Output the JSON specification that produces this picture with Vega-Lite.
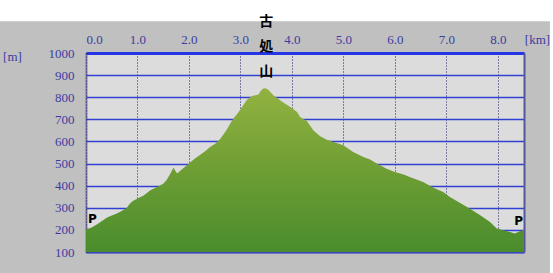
{
  "$schema": "https://vega.github.io/schema/vega-lite/v6.json",
  "width": 438,
  "height": 199,
  "autosize": {"type": "none"},
  "padding": {"left": 86, "top": 53, "right": 29, "bottom": 21},
  "background": "#c0c0c0",
  "config": {
    "view": {"fill": "#dcdcdc", "stroke": null},
    "axis": {"zindex": 1}
  },
  "datasets": {
    "profile": [
      {"km": 0.00, "elev": 203}, {"km": 0.10, "elev": 210}, {"km": 0.21, "elev": 224}, {"km": 0.31, "elev": 240},
      {"km": 0.41, "elev": 256}, {"km": 0.50, "elev": 265}, {"km": 0.60, "elev": 274}, {"km": 0.70, "elev": 287},
      {"km": 0.79, "elev": 299}, {"km": 0.85, "elev": 318}, {"km": 0.91, "elev": 331}, {"km": 1.02, "elev": 344},
      {"km": 1.12, "elev": 356}, {"km": 1.25, "elev": 379}, {"km": 1.38, "elev": 394}, {"km": 1.50, "elev": 409},
      {"km": 1.57, "elev": 427}, {"km": 1.64, "elev": 455}, {"km": 1.70, "elev": 482}, {"km": 1.73, "elev": 470},
      {"km": 1.77, "elev": 455}, {"km": 1.86, "elev": 473}, {"km": 2.00, "elev": 500}, {"km": 2.11, "elev": 522},
      {"km": 2.22, "elev": 540}, {"km": 2.32, "elev": 557}, {"km": 2.41, "elev": 575}, {"km": 2.51, "elev": 590},
      {"km": 2.61, "elev": 612}, {"km": 2.68, "elev": 635}, {"km": 2.74, "elev": 655}, {"km": 2.80, "elev": 680},
      {"km": 2.86, "elev": 703}, {"km": 2.93, "elev": 722}, {"km": 2.99, "elev": 741}, {"km": 3.06, "elev": 765},
      {"km": 3.12, "elev": 786}, {"km": 3.22, "elev": 805}, {"km": 3.35, "elev": 812}, {"km": 3.40, "elev": 830},
      {"km": 3.45, "elev": 841}, {"km": 3.50, "elev": 840}, {"km": 3.54, "elev": 834}, {"km": 3.64, "elev": 809},
      {"km": 3.77, "elev": 786}, {"km": 3.87, "elev": 770}, {"km": 3.97, "elev": 756}, {"km": 4.10, "elev": 733},
      {"km": 4.16, "elev": 711}, {"km": 4.29, "elev": 693}, {"km": 4.42, "elev": 650}, {"km": 4.55, "elev": 623},
      {"km": 4.68, "elev": 608}, {"km": 4.81, "elev": 597}, {"km": 5.00, "elev": 583}, {"km": 5.19, "elev": 552},
      {"km": 5.39, "elev": 530}, {"km": 5.52, "elev": 518}, {"km": 5.65, "elev": 500}, {"km": 5.84, "elev": 477},
      {"km": 6.00, "elev": 462}, {"km": 6.17, "elev": 451}, {"km": 6.29, "elev": 439}, {"km": 6.42, "elev": 428},
      {"km": 6.55, "elev": 417}, {"km": 6.75, "elev": 391}, {"km": 6.94, "elev": 371}, {"km": 7.07, "elev": 349},
      {"km": 7.27, "elev": 322}, {"km": 7.46, "elev": 296}, {"km": 7.66, "elev": 266}, {"km": 7.85, "elev": 236},
      {"km": 7.98, "elev": 206}, {"km": 8.11, "elev": 198}, {"km": 8.24, "elev": 190}, {"km": 8.33, "elev": 184},
      {"km": 8.43, "elev": 194}, {"km": 8.51, "elev": 200}
    ],
    "marks": [
      {"km": 0.0, "elev": 203, "label": "P", "kind": "start"},
      {"km": 8.51, "elev": 200, "label": "P", "kind": "end"},
      {"km": 3.5, "elev": 841, "label": "古\n処\n山", "kind": "peak"}
    ]
  },
  "resolve": {"axis": {"x": "independent", "y": "independent"}},
  "layer": [
    {
      "data": {"values": [{}]},
      "mark": {"type": "rect", "color": "#ffffff"},
      "encoding": {
        "x": {"datum": -5, "type": "quantitative", "scale": {"domain": [0, 8.51], "nice": false, "zero": false}, "axis": null},
        "x2": {"datum": 12},
        "y": {"datum": 1143.5, "type": "quantitative", "scale": {"domain": [100, 1000], "nice": false, "zero": false}, "axis": null},
        "y2": {"datum": 3000}
      }
    },
    {
      "data": {"values": [{}]},
      "mark": {"type": "rect", "color": "#ffffff"},
      "encoding": {
        "x": {"datum": 9.013, "type": "quantitative", "axis": null},
        "x2": {"datum": 12},
        "y": {"datum": -200, "type": "quantitative", "axis": null},
        "y2": {"datum": 3000}
      }
    },
    {
      "data": {"name": "profile"},
      "mark": {
        "type": "area",
        "interpolate": "linear",
        "color": {
          "gradient": "linear", "x1": 0, "y1": 0, "x2": 0, "y2": 1,
          "stops": [
            {"offset": 0, "color": "#92b241"},
            {"offset": 0.5, "color": "#6e9e34"},
            {"offset": 1, "color": "#4a8c2c"}
          ]
        }
      },
      "encoding": {
        "x": {
          "field": "km", "type": "quantitative",
          "scale": {"domain": [0, 8.51], "nice": false, "zero": false},
          "axis": {
            "orient": "top", "values": [0, 1, 2, 3, 4, 5, 6, 7, 8], "format": ".1f",
            "labelFont": "Liberation Serif", "labelFontSize": 13, "labelColor": "#3c3ca0",
            "labelPadding": 7, "labelFlush": true, "ticks": false, "tickSize": 0,
            "domain": true, "domainColor": "#2436e6", "domainWidth": 3,
            "grid": true, "gridColor": "#1e1e66", "gridDash": [1, 2], "gridWidth": 1, "gridOpacity": 1,
            "title": "[km]", "titleFont": "Liberation Serif", "titleFontSize": 13, "titleFontWeight": "normal",
            "titleColor": "#3c3ca0", "titleX": 451, "titleY": -13.5, "titleAlign": "center", "titleBaseline": "middle", "titleAngle": 0
          }
        },
        "y": {
          "field": "elev", "type": "quantitative",
          "scale": {"domain": [100, 1000], "nice": false, "zero": false},
          "axis": {
            "orient": "left", "values": [100, 200, 300, 400, 500, 600, 700, 800, 900, 1000], "format": "d",
            "labelFont": "Liberation Serif", "labelFontSize": 13, "labelColor": "#3c3ca0",
            "labelPadding": 12, "ticks": false, "tickSize": 0,
            "domain": true, "domainColor": "#2a2a70", "domainDash": [1, 1], "domainWidth": 2,
            "grid": true, "gridColor": "#3040d0", "gridWidth": 1.3, "gridOpacity": 1,
            "title": "[m]", "titleFont": "Liberation Serif", "titleFontSize": 13, "titleFontWeight": "normal",
            "titleColor": "#3c3ca0", "titleX": -74, "titleY": 3.5, "titleAlign": "center", "titleBaseline": "middle", "titleAngle": 0
          }
        },
        "y2": {"datum": 100}
      }
    },
    {
      "data": {"name": "marks"},
      "transform": [{"filter": "datum.kind === 'start'"}],
      "mark": {"type": "text", "align": "left", "baseline": "bottom", "dx": 2, "dy": -3, "font": "DejaVu Sans", "fontSize": 12, "fontWeight": "bold", "color": "#000000"},
      "encoding": {
        "x": {"field": "km", "type": "quantitative", "axis": {"orient": "bottom", "labels": false, "ticks": false, "grid": false, "domain": true, "domainColor": "#3a48c0", "domainWidth": 2, "title": null}},
        "y": {"field": "elev", "type": "quantitative", "axis": {"orient": "right", "labels": false, "ticks": false, "grid": false, "domain": true, "domainColor": "#55559a", "domainWidth": 2, "title": null}},
        "text": {"field": "label"}
      }
    },
    {
      "data": {"name": "marks"},
      "transform": [{"filter": "datum.kind === 'end'"}],
      "mark": {"type": "text", "align": "right", "baseline": "bottom", "dx": -1, "dy": -2, "font": "DejaVu Sans", "fontSize": 12, "fontWeight": "bold", "color": "#000000"},
      "encoding": {
        "x": {"field": "km", "type": "quantitative", "axis": null},
        "y": {"field": "elev", "type": "quantitative", "axis": null},
        "text": {"field": "label"}
      }
    },
    {
      "data": {"name": "marks"},
      "transform": [{"filter": "datum.kind === 'peak'"}],
      "mark": {"type": "text", "align": "center", "baseline": "top", "dy": -73, "lineBreak": "\n", "lineHeight": 25, "font": "Noto Sans CJK JP", "fontSize": 14, "fontWeight": "bold", "color": "#000000"},
      "encoding": {
        "x": {"field": "km", "type": "quantitative", "axis": null},
        "y": {"field": "elev", "type": "quantitative", "axis": null},
        "text": {"field": "label"}
      }
    }
  ]
}
